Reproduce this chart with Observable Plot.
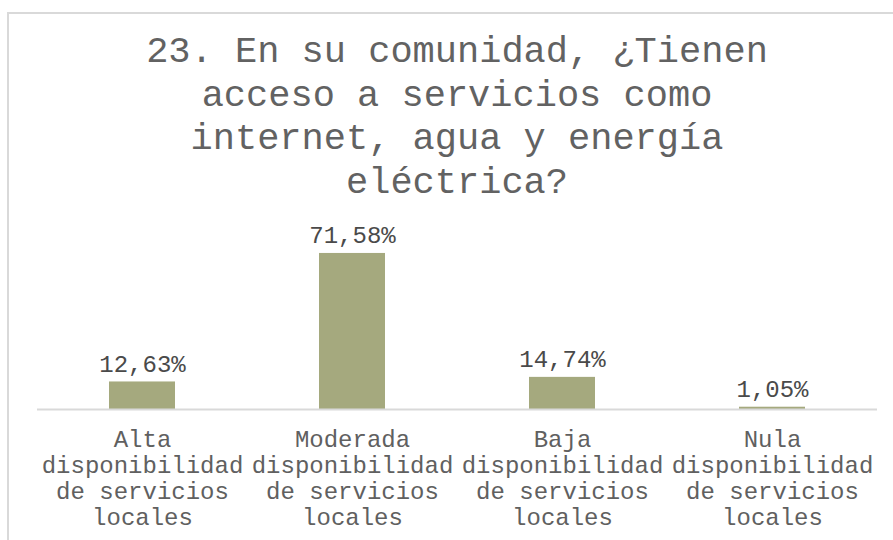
<!DOCTYPE html>
<html>
<head>
<meta charset="utf-8">
<script src="https://cdn.jsdelivr.net/npm/d3@7"></script>
<script src="https://cdn.jsdelivr.net/npm/@observablehq/plot@0.6"></script>
<style>
  body { margin: 0; background: #fff; }
  #wrap { position: relative; width: 893px; height: 540px; overflow: hidden; background: #fff; }
  #frame { position: absolute; left: 7px; top: 12px; width: 950px; height: 600px;
           border-left: 2px solid #d9d9d9; border-top: 2px solid #d9d9d9; box-sizing: border-box; }
  #title { position: absolute; left: 37px; width: 840px; top: 31px; text-align: center;
           font-family: "Liberation Mono", "DejaVu Sans Mono", monospace; font-size: 37px;
           line-height: 43.5px; color: #626262; }
  #chart { position: absolute; left: 0; top: 0; }
</style>
</head>
<body>
<div id="wrap">
  <div id="frame"></div>
  <div id="chart"></div>
  <div id="title"></div>
</div>
<script>
const titleLines = [
  "23. En su comunidad, ¿Tienen",
  "acceso a servicios como",
  "internet, agua y energía",
  "eléctrica?"
];
const categories = [
  "Alta disponibilidad de servicios locales",
  "Moderada disponibilidad de servicios locales",
  "Baja disponibilidad de servicios locales",
  "Nula disponibilidad de servicios locales"
];
const categoryLabels = [
  "Alta\ndisponibilidad\nde servicios\nlocales",
  "Moderada\ndisponibilidad\nde servicios\nlocales",
  "Baja\ndisponibilidad\nde servicios\nlocales",
  "Nula\ndisponibilidad\nde servicios\nlocales"
];
const values = [12.63, 71.58, 14.74, 1.05];
const valueLabels = ["12,63%", "71,58%", "14,74%", "1,05%"];

document.getElementById("title").innerHTML = titleLines.join("<br>");

const data = categories.map((c, i) => ({cat: c, value: values[i], label: valueLabels[i]}));
const labelOf = Object.fromEntries(categories.map((c, i) => [c, categoryLabels[i]]));

const font = "Liberation Mono, DejaVu Sans Mono, monospace";
const chart = Plot.plot({
  width: 893,
  height: 540,
  marginLeft: 37,
  marginRight: 16,
  marginTop: 200,
  marginBottom: 131,
  style: {fontFamily: font, color: "#595959", background: "transparent", overflow: "visible"},
  x: {domain: categories, paddingInner: 0.686, paddingOuter: 0.343},
  y: {domain: [0, 80], range: [409, 234.6]},
  marks: [
    Plot.barY(data, {x: "cat", y: "value", fill: "#a5a97e"}),
    Plot.ruleY([0], {stroke: "#d9d9d9", strokeWidth: 2}),
    Plot.text(data, {x: "cat", y: "value", text: "label", lineAnchor: "bottom", dy: -10,
                     fontSize: 24, fill: "#4a4a4a"}),
    Plot.axisX({tickSize: 0, tickPadding: 19, fontSize: 24, lineHeight: 1.083,
                tickFormat: d => labelOf[d], label: null, fill: "#606060"}),
    Plot.axisY({ticks: [], label: null})
  ]
});
document.getElementById("chart").appendChild(chart);
</script>
</body>
</html>
